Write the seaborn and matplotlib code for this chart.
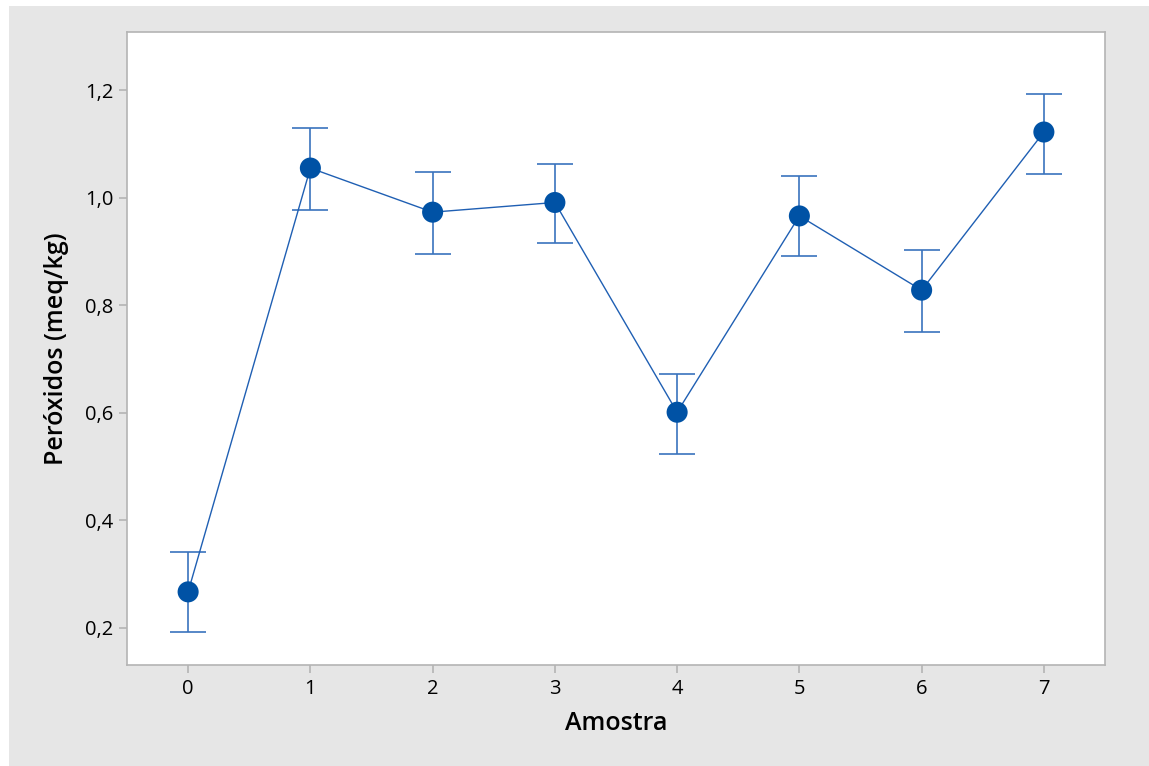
import matplotlib
matplotlib.use("Agg")
import matplotlib.pyplot as plt
import seaborn as sns
import pandas as pd
from matplotlib.patches import Rectangle

amostra = [0, 1, 2, 3, 4, 5, 6, 7]
media = [0.267, 1.055, 0.973, 0.991, 0.601, 0.966, 0.828, 1.122]
inferior = [0.193, 0.977, 0.895, 0.915, 0.523, 0.891, 0.750, 1.044]
superior = [0.342, 1.129, 1.048, 1.063, 0.672, 1.040, 0.903, 1.193]
y_ticks = [0.2, 0.4, 0.6, 0.8, 1.0, 1.2]
y_tick_labels = ["0,2", "0,4", "0,6", "0,8", "1,0", "1,2"]

df = pd.DataFrame({"Amostra": amostra, "Media": media,
                   "Inf": inferior, "Sup": superior})

sns.set_theme(style="white")
plt.rcParams['font.family'] = ['Open Sans', 'DejaVu Sans']

fig = plt.figure(figsize=(11.49, 7.66), dpi=100, facecolor="white")
fig.patches.append(Rectangle((9/1149, 0), 1 - 9/1149, 1 - 6/766,
                             transform=fig.transFigure, facecolor="#e6e6e6",
                             edgecolor="none", zorder=-10))
ax = fig.add_axes([127/1149, 1 - 665/766, (1105-127)/1149, (665-32)/766])
ax.set_facecolor("white")

err_low = df["Media"] - df["Inf"]
err_high = df["Sup"] - df["Media"]
ax.errorbar(df["Amostra"], df["Media"], yerr=[err_low, err_high], fmt="none",
            ecolor="#3a73bd", elinewidth=1.2, capsize=13, capthick=1.2, zorder=2)
sns.lineplot(data=df, x="Amostra", y="Media", ax=ax, color="#1f5fb3",
             linewidth=1.0, zorder=3)
sns.scatterplot(data=df, x="Amostra", y="Media", ax=ax, color="#0052a5",
                s=230, edgecolor="none", zorder=4)

ax.set_xlim(-0.5, 7.5)
ax.set_ylim(0.131, 1.308)
ax.set_xticks(amostra)
ax.set_xticklabels([str(a) for a in amostra], fontweight="medium")
ax.set_yticks(y_ticks)
ax.set_yticklabels(y_tick_labels, fontweight="medium")

for s in ax.spines.values():
    s.set_color("#b4b4b4")
    s.set_linewidth(1.2)
ax.tick_params(axis="both", which="major", length=6, width=1.2, color="#b4b4b4",
               labelsize=14.5, labelcolor="black", pad=4, direction="out",
               bottom=True, left=True)

ax.set_xlabel("Amostra", fontsize=18, fontweight="semibold", labelpad=9, color="black")
ax.set_ylabel("Peróxidos (meq/kg)", fontsize=18, fontweight="semibold", labelpad=11, color="black")

fig.savefig("out.png", dpi=100, facecolor=fig.get_facecolor())
